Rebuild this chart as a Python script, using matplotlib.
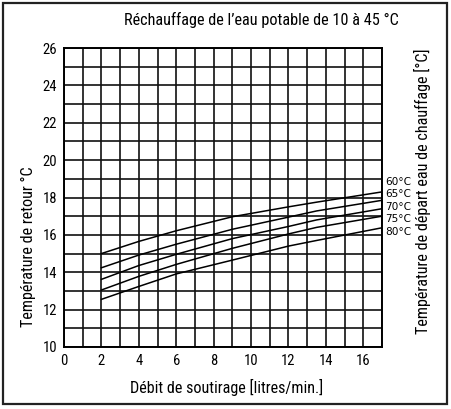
import matplotlib
matplotlib.use("Agg")
import matplotlib.pyplot as plt
from matplotlib.patches import Rectangle

NARROW = ["Liberation Sans Narrow", "Roboto Condensed", "DejaVu Sans Condensed",
          "Liberation Sans", "DejaVu Sans"]
plt.rcParams["font.family"] = NARROW

# flow rate [l/min] and return temperature [°C] per supply temperature
FLOW = [2, 4, 6, 9, 12, 13.5, 17]
T60 = [15.0, 15.65, 16.22, 16.97, 17.5, 17.75, 18.3]
T65 = [14.24, 14.92, 15.5, 16.3, 16.95, 17.28, 17.85]
T70 = [13.62, 14.36, 14.96, 15.8, 16.45, 16.8, 17.4]
T75 = [13.05, 13.78, 14.42, 15.28, 16.05, 16.4, 17.0]
T80 = [12.55, 13.24, 13.91, 14.65, 15.4, 15.7, 16.38]
SERIES = [T60, T65, T70, T75, T80]
LABELS = ["60°C", "65°C", "70°C", "75°C", "80°C"]
XTICKS = list(range(0, 17, 2))
YTICKS = list(range(10, 27, 2))

fig = plt.figure(figsize=(4.52, 4.09), dpi=100)
fig.patches.append(Rectangle((0.007, 0.012), 0.982, 0.98, transform=fig.transFigure,
                             fill=False, lw=1.6, color="#222"))
ax = fig.add_axes([0.1416, 0.1516, 0.7035, 0.731])
ax.set_xlim(0, 17)
ax.set_ylim(10, 26)
for v in range(0, 18):
    ax.axvline(v, color="#111", lw=1.2, zorder=1)
for h in range(10, 27):
    ax.axhline(h, color="#111", lw=1.2, zorder=1)
for s in ax.spines.values():
    s.set_linewidth(1.4)
ax.set_xticks(XTICKS)
ax.set_yticks(YTICKS)
ax.tick_params(length=0, labelsize=10.5, pad=5)

for ys in SERIES:
    ax.plot(FLOW, ys, color="black", lw=1.1, zorder=3)

lab_y = [18.84, 18.19, 17.49, 16.85, 16.15]
for lab, y in zip(LABELS, lab_y):
    ax.text(17.15, y, lab, fontsize=7.6, family=["DejaVu Sans Condensed", "DejaVu Sans"],
            va="center", ha="left", clip_on=False)

fig.text(0.578, 0.952, "Réchauffage de l\u2019eau potable de 10 à 45 °C",
         ha="center", va="center", fontsize=11.7)
fig.text(0.502, 0.052, "Débit de soutirage [litres/min.]",
         ha="center", va="center", fontsize=11.6)
fig.text(0.062, 0.398, "Température de retour °C", rotation=90,
         ha="center", va="center", fontsize=11.6)
fig.text(0.934, 0.532, "Température de départ eau de chauffage [°C]", rotation=90,
         ha="center", va="center", fontsize=11.6)

fig.savefig("out.png", dpi=100, facecolor="white")
